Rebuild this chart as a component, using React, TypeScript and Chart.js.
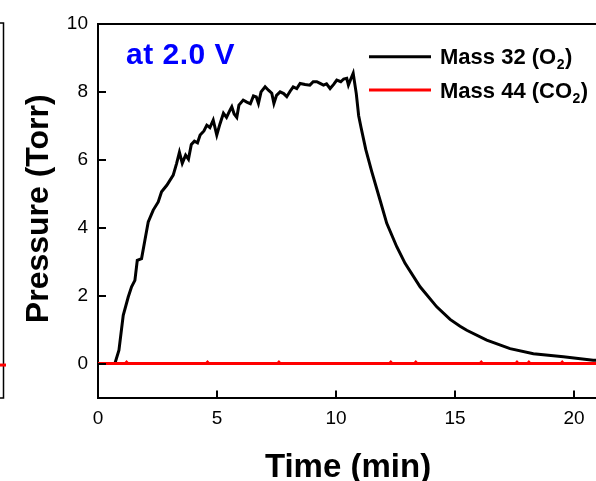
import React, { useEffect, useRef } from 'react';
import { Chart, registerables } from 'chart.js';

Chart.register(...registerables);

// ---- data ----
const o2Time = [
  0, 0.71, 0.88, 1.06, 1.27, 1.41, 1.55, 1.65, 1.83, 1.97, 2.11, 2.32, 2.53, 2.67, 2.89,
  3.16, 3.3, 3.42, 3.54, 3.68, 3.8, 3.92, 4.05, 4.18, 4.29, 4.45, 4.57, 4.7, 4.84, 4.99,
  5.12, 5.27, 5.4, 5.55, 5.62, 5.72, 5.83, 5.92, 6.1, 6.25, 6.4, 6.53, 6.65, 6.74, 6.85,
  7.02, 7.16, 7.3, 7.39, 7.5, 7.65, 7.8, 7.93, 8.07, 8.2, 8.35, 8.49, 8.7, 8.9, 9.04,
  9.19, 9.33, 9.47, 9.6, 9.75, 9.9, 10.03, 10.2, 10.32, 10.45, 10.52, 10.62, 10.72,
  10.85, 10.95, 11.05, 11.25, 11.5, 11.85, 12.13, 12.55, 12.9, 13.53, 14.23, 14.79,
  15.21, 15.49, 16.33, 17.31, 18.29, 19.55, 20.8, 21,
];
const o2Pressure = [
  0, 0, 0.39, 1.42, 1.96, 2.26, 2.45, 3.04, 3.09, 3.63, 4.17, 4.52, 4.76, 5.06, 5.25,
  5.55, 5.89, 6.22, 5.9, 6.14, 6.02, 6.45, 6.55, 6.5, 6.73, 6.85, 7.02, 6.95, 7.17, 6.73,
  7.05, 7.37, 7.25, 7.47, 7.56, 7.35, 7.25, 7.61, 7.76, 7.7, 7.65, 7.88, 7.85, 7.66, 8.0,
  8.15, 8.05, 7.96, 7.66, 7.9, 8.0, 7.95, 7.86, 8.02, 8.15, 8.1, 8.25, 8.22, 8.2, 8.3,
  8.3, 8.25, 8.2, 8.24, 8.1, 8.22, 8.35, 8.3, 8.38, 8.4, 8.2, 8.38, 8.55,
  7.95, 7.3, 6.95, 6.3, 5.65, 4.81, 4.13, 3.44, 2.95, 2.26, 1.67, 1.3,
  1.1, 0.98, 0.69, 0.44, 0.29, 0.2, 0.1, 0.09,
];
const co2Time = [
  0, 1.15, 1.2, 1.25, 3.0, 4.55, 4.6, 4.65, 7.55, 7.6, 7.65, 10.5, 12.25, 12.3, 12.35,
  13.3, 13.35, 13.4, 16.05, 16.1, 16.15, 17.55, 17.6, 17.65, 18.05, 18.1, 18.15,
  19.45, 19.5, 19.55, 21,
];
const co2Pressure = [
  0, 0, 0.04, 0, 0, 0, 0.04, 0, 0, 0.04, 0, 0, 0, 0.04, 0,
  0, 0.04, 0, 0, 0.04, 0, 0, 0.04, 0, 0, 0.04, 0,
  0, 0.04, 0, 0,
];
const xTicks = [0, 5, 10, 15, 20];
const yTicks = [0, 2, 4, 6, 8, 10];
const seriesLabels = ['Mass 32 (O', 'Mass 44 (CO'];
const seriesColors = ['#000000', '#ff0000'];
const annotation = 'at 2.0 V';
const xTitle = 'Time (min)';
const yTitle = 'Pressure (Torr)';

const FONT = '"Liberation Sans", Arial, sans-serif';

const decorPlugin = {
  id: 'decor',
  afterDraw(chart: any) {
    const { ctx, chartArea } = chart;
    const xs = chart.scales.x;
    const ys = chart.scales.y;
    ctx.save();
    // inside tick marks
    ctx.strokeStyle = '#000';
    ctx.lineWidth = 2;
    ctx.beginPath();
    xTicks.forEach((v) => {
      const px = Math.round(xs.getPixelForValue(v));
      ctx.moveTo(px, chartArea.bottom);
      ctx.lineTo(px, chartArea.bottom - 7);
    });
    yTicks.forEach((v) => {
      const py = Math.round(ys.getPixelForValue(v));
      ctx.moveTo(chartArea.left, py);
      ctx.lineTo(chartArea.left + 8, py);
    });
    ctx.stroke();

    // edge of neighbouring panel at far left
    ctx.lineWidth = 1.5;
    ctx.beginPath();
    ctx.moveTo(0, chartArea.top - 1);
    ctx.lineTo(3.5, chartArea.top - 1);
    ctx.lineTo(3.5, chartArea.bottom + 0.5);
    ctx.lineTo(0, chartArea.bottom + 0.5);
    ctx.stroke();
    ctx.strokeStyle = '#ff0000';
    ctx.lineWidth = 3;
    ctx.beginPath();
    const y0 = ys.getPixelForValue(0) + 1.5;
    ctx.moveTo(0, y0);
    ctx.lineTo(6, y0);
    ctx.stroke();

    // axis titles
    ctx.fillStyle = '#000';
    ctx.font = `bold 33px ${FONT}`;
    ctx.textAlign = 'center';
    ctx.textBaseline = 'alphabetic';
    ctx.fillText(xTitle, (chartArea.left + chartArea.right) / 2 + 1, 476.5);
    ctx.save();
    ctx.translate(48, (chartArea.top + chartArea.bottom) / 2 - 2);
    ctx.rotate(-Math.PI / 2);
    ctx.font = `bold 32px ${FONT}`;
    ctx.fillText(yTitle, 0, 0);
    ctx.restore();

    // annotation
    ctx.textAlign = 'left';
    ctx.fillStyle = '#0000ff';
    ctx.font = `bold 30px ${FONT}`;
    try {
      (ctx as any).letterSpacing = '0.5px';
    } catch (e) {
      /* ignore */
    }
    ctx.fillText(annotation, 126, 64);
    try {
      (ctx as any).letterSpacing = '0px';
    } catch (e) {
      /* ignore */
    }

    // legend
    const rows = [56.7, 90];
    rows.forEach((ly, i) => {
      ctx.strokeStyle = seriesColors[i];
      ctx.lineWidth = 3;
      ctx.beginPath();
      ctx.moveTo(369, ly);
      ctx.lineTo(431, ly);
      ctx.stroke();
      ctx.fillStyle = '#000';
      ctx.font = `bold 22px ${FONT}`;
      const base = ly + 7.5;
      let x = 440;
      ctx.fillText(seriesLabels[i], x, base);
      x += ctx.measureText(seriesLabels[i]).width;
      ctx.font = `bold 14px ${FONT}`;
      ctx.fillText('2', x + 0.5, base + 5);
      x += ctx.measureText('2').width + 1;
      ctx.font = `bold 22px ${FONT}`;
      ctx.fillText(')', x, base);
    });
    ctx.restore();
  },
};

export default function App() {
  const ref = useRef<HTMLCanvasElement | null>(null);

  useEffect(() => {
    if (!ref.current) return;
    const chart = new Chart(ref.current, {
      type: 'line',
      data: {
        datasets: [
          {
            label: seriesLabels[1],
            data: co2Time.map((t, i) => ({ x: t, y: co2Pressure[i] })),
            borderColor: seriesColors[1],
            borderWidth: 3,
            pointRadius: 0,
            tension: 0,
            order: 0,
          },
          {
            label: seriesLabels[0],
            data: o2Time.map((t, i) => ({ x: t, y: o2Pressure[i] })),
            borderColor: seriesColors[0],
            borderWidth: 3,
            pointRadius: 0,
            tension: 0,
            order: 1,
          },
        ],
      },
      options: {
        animation: false,
        responsive: false,
        devicePixelRatio: 1,
        layout: { padding: 0 },
        plugins: {
          legend: { display: false },
          tooltip: { enabled: false },
        },
        scales: {
          x: {
            type: 'linear',
            position: 'bottom',
            min: 0,
            max: 20.92,
            afterFit: (s: any) => {
              s.height = 83.5;
            },
            afterBuildTicks: (s: any) => {
              s.ticks = xTicks.map((v) => ({ value: v }));
            },
            ticks: {
              padding: 10,
              color: '#000',
              font: { family: FONT, size: 19 },
              maxRotation: 0,
            },
            grid: { drawOnChartArea: false, drawTicks: false },
            border: { display: true, color: '#000', width: 2 },
          },
          xTop: {
            type: 'linear',
            position: 'top',
            min: 0,
            max: 20.92,
            afterFit: (s: any) => {
              s.height = 24;
            },
            ticks: { display: false },
            grid: { drawOnChartArea: false, drawTicks: false },
            border: { display: true, color: '#000', width: 2 },
          },
          y: {
            type: 'linear',
            position: 'left',
            min: -1,
            max: 10,
            afterFit: (s: any) => {
              s.width = 98;
            },
            afterBuildTicks: (s: any) => {
              s.ticks = yTicks.map((v) => ({ value: v }));
            },
            ticks: {
              padding: 10,
              color: '#000',
              font: { family: FONT, size: 19 },
            },
            grid: { drawOnChartArea: false, drawTicks: false },
            border: { display: true, color: '#000', width: 2 },
          },
        },
      },
      plugins: [decorPlugin],
    } as any);
    return () => chart.destroy();
  }, []);

  return (
    <div style={{ position: 'fixed', left: 0, top: 0, width: 596, height: 481, background: '#fff' }}>
      <canvas ref={ref} width={596} height={481} style={{ display: 'block' }} />
    </div>
  );
}
